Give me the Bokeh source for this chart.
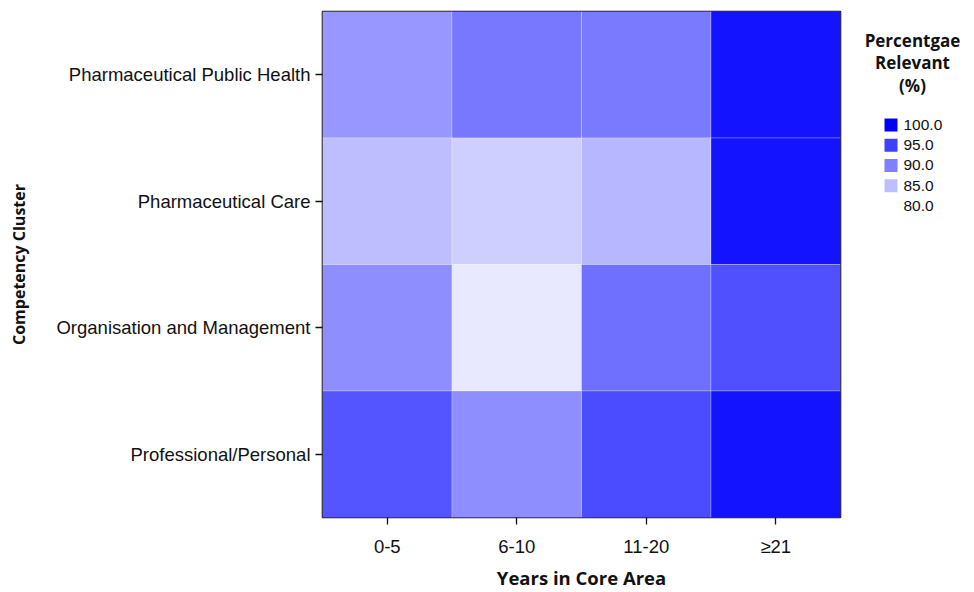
from bokeh.plotting import figure
from bokeh.models import FactorRange, Range1d, ColumnDataSource
from bokeh.transform import linear_cmap
from bokeh.layouts import row
from bokeh.embed import file_html
from bokeh.resources import INLINE
from bokeh.core.properties import value

years = ["0-5", "6-10", "11-20", "\u226521"]
clusters = ["Pharmaceutical Public Health", "Pharmaceutical Care",
            "Organisation and Management", "Professional/Personal"]
pph = [88.2, 90.6, 90.4, 98.5]
pc = [85.1, 83.9, 85.7, 98.5]
om = [88.9, 81.8, 91.2, 93.7]
pp = [93.3, 88.9, 94.1, 98.5]
legend_values = [100.0, 95.0, 90.0, 85.0, 80.0]
legend_title = ["Percentgae", "Relevant", "(%)"]

low, high = 80.0, 100.0
palette = []
for i in range(256):
    c = int(round(255 * (1 - i / 255)))
    palette.append("#%02x%02xff" % (c, c))

xs, ys, vs = [], [], []
for cl, vals in zip(clusters, [pph, pc, om, pp]):
    for yr, v in zip(years, vals):
        xs.append(yr)
        ys.append(cl)
        vs.append(v)
src = ColumnDataSource(dict(x=xs, y=ys, v=vs))

W, H = 848, 592
TOP, BOTTOM = 11, 73
p = figure(width=W, height=H, x_range=FactorRange(*years),
           y_range=FactorRange(*clusters[::-1]),
           output_backend="svg", toolbar_location=None,
           min_border_left=322, min_border_right=8, min_border_top=TOP,
           min_border_bottom=BOTTOM)
p.rect("x", "y", 1, 1, source=src,
       fill_color=linear_cmap("v", palette, low, high),
       line_color="white", line_alpha=0.25, line_width=1)

p.grid.visible = False
p.background_fill_color = "white"
p.outline_line_color = "#111111"
p.outline_line_width = 1.6
p.x_range.range_padding = 0
p.y_range.range_padding = 0

for ax in (p.xaxis[0], p.yaxis[0]):
    ax.axis_line_color = None
    ax.major_tick_in = 0
    ax.major_tick_out = 7
    ax.major_tick_line_color = "#111111"
    ax.major_tick_line_width = 1.3
    ax.major_label_text_font = "Liberation Sans"
    ax.major_label_text_font_size = "18.5px"
    ax.major_label_text_color = "#111111"
    ax.axis_label_text_font = "Open Sans"
    ax.axis_label_text_font_style = "bold"
    ax.axis_label_text_color = "#111111"

p.xaxis.axis_label = "Years in Core Area"
p.xaxis.axis_label_text_font_size = "18.5px"
p.xaxis.major_label_standoff = 11
p.xaxis.axis_label_standoff = 5
p.yaxis.axis_label = "Competency Cluster"
p.yaxis.axis_label_text_font_size = "16px"
p.yaxis.major_label_standoff = 5
p.yaxis.axis_label_standoff = 23

# legend panel: data coordinates equal page pixels
LX0, LW = W, 118
frame_h = H - TOP - BOTTOM
lg = figure(width=LW, height=H, x_range=Range1d(LX0, LX0 + LW),
            y_range=Range1d(TOP + frame_h, TOP),
            x_axis_type=None, y_axis_type=None,
            output_backend="svg", toolbar_location=None,
            min_border_left=0, min_border_right=0,
            min_border_top=TOP, min_border_bottom=BOTTOM)
lg.grid.visible = False
lg.outline_line_color = None

n = len(legend_title)
lg.text(x=[LX0 + 64] * n, y=[40 + 22.5 * i for i in range(n)], text=legend_title,
        text_font=value("Open Sans"), text_font_style="bold",
        text_font_size="17px", text_align="center", text_baseline="middle",
        text_color="#111111")
m = len(legend_values)
lsrc = ColumnDataSource(dict(
    x=[LX0 + 42.5] * m, tx=[LX0 + 55] * m,
    y=[125 + 20.3 * i for i in range(m)],
    v=legend_values, t=["%.1f" % v for v in legend_values]))
lg.rect("x", "y", 13, 13, source=lsrc,
        fill_color=linear_cmap("v", palette, low, high), line_color=None)
lg.text("tx", "y", text="t", source=lsrc, text_font=value("Liberation Sans"),
        text_font_size="15.5px", text_baseline="middle", text_color="#111111")

layout = row(p, lg)
open("out.html", "w").write(file_html(layout, INLINE))
